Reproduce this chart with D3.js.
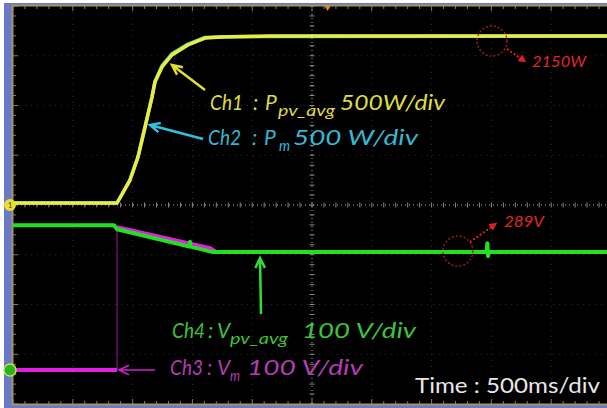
<!DOCTYPE html>
<html>
<head>
<meta charset="utf-8">
<script src="https://cdn.jsdelivr.net/npm/d3@7"></script>
<style>
  body { margin: 0; background: #fff; }
  svg { display: block; }
  text { font-family: Lato, "Open Sans", sans-serif; }
</style>
</head>
<body>
<div id="scope"></div>
<script>
/////////////////////////////////////////////////////////////
///////////////////// Data ////////////
/////////////////////////////////////////////////////////////

//Ch1 - P_pv_avg (W), time in ms
var ch1Time  = [0, 870, 978, 1045, 1104, 1162, 1187, 1246, 1329, 1463, 1605, 1747, 2149, 5000],
	ch1Watts = [20, 20, 251, 482, 784, 1085, 1236, 1387, 1508, 1608, 1678, 1688, 1698, 1698];

//Ch2 - P_m (W), almost entirely hidden behind Ch1
var ch2Time  = [0, 870, 978, 1045, 1104, 1162, 1187, 1246, 1329, 1463, 1605, 1747, 5000],
	ch2Watts = [20, 20, 251, 482, 784, 1085, 1240, 1400, 1520, 1618, 1684, 1692, 1698];

//Ch3 - V_m (V)
var ch3Time  = [0, 870, 870, 1650, 1700, 5000],
	ch3Volts = [0, 0, 287, 245, 237, 237];

//Ch4 - V_pv_avg (V)
var ch4Time  = [0, 845, 870, 1475, 1480, 1486, 1672, 3960, 3966, 3972, 3978, 5000],
	ch4Volts = [291, 291, 283, 248, 258, 248, 237, 237, 255, 229, 237, 237];

//Channel settings
var channels = [
	{ name: "Ch1", sym: "P", sub: "pv_avg", scale: "500W/div",  perDiv: 500, ground: 0 },
	{ name: "Ch2", sym: "P", sub: "m",      scale: "500 W/div", perDiv: 500, ground: 0 },
	{ name: "Ch3", sym: "V", sub: "m",      scale: "100 V/div", perDiv: 100, ground: -3.317 },
	{ name: "Ch4", sym: "V", sub: "pv_avg", scale: "100 V/div", perDiv: 100, ground: -3.317 }
];
var timeLabel = "Time : 500ms/div",
	marks = [ { ch: 0, t: 4005, text: "2150W" }, { ch: 3, t: 3720, text: "289V" } ];

/////////////////////////////////////////////////////////////
///////////////////// Set up ////////////////////////////////
/////////////////////////////////////////////////////////////

var width = 607, height = 408,
	plotLeft = 13, plotTop = 6, divW = 59.8, divH = 49.75;

var svg = d3.select("#scope").append("svg")
	.attr("width", width)
	.attr("height", height);

var x = d3.scaleLinear().domain([0, 5000]).range([plotLeft, plotLeft + 10 * divW]),
	y = d3.scaleLinear().domain([-4, 4]).range([plotTop + 8 * divH, plotTop]);

//value in channel units -> divisions
function toDiv(ch, v) { return v / channels[ch].perDiv + channels[ch].ground; }

//Outer frame of the screenshot
svg.append("rect").attr("x", 4).attr("y", 3).attr("width", width).attr("height", height)
	.style("fill", "#6b78c8");
svg.append("rect").attr("x", plotLeft).attr("y", plotTop).attr("width", width - plotLeft).attr("height", 8 * divH)
	.style("fill", "#000");

/////////////////////////////////////////////////////////////
///////////////////// Graticule /////////////////////////////
/////////////////////////////////////////////////////////////

var grid = svg.append("g");
var xDivs = d3.range(1, 10).map(function(i) { return i * 500; }),
	yDivs = d3.range(-3, 4);

grid.selectAll(".vgrid").data(xDivs).enter().append("line")
	.attr("x1", function(d) { return x(d); }).attr("x2", function(d) { return x(d); })
	.attr("y1", y(4)).attr("y2", y(-4))
	.style("stroke", function(d) { return d === 2500 ? "#b0b0b0" : "#2c2c3a"; })
	.style("stroke-width", 1)
	.style("stroke-dasharray", function(d) { return d === 2500 ? "1,3" : "1,5"; });
grid.selectAll(".hgrid").data(yDivs).enter().append("line")
	.attr("y1", function(d) { return y(d); }).attr("y2", function(d) { return y(d); })
	.attr("x1", x(0)).attr("x2", width)
	.style("stroke", function(d) { return d === 0 ? "#b0b0b0" : "#2c2c3a"; })
	.style("stroke-width", 1)
	.style("stroke-dasharray", function(d) { return d === 0 ? "1,3" : "1,5"; });

//minor ticks on the centre lines
var xMinor = d3.range(0, 51).map(function(i) { return i * 100; }),
	yMinor = d3.range(-20, 21).map(function(i) { return i / 5; });
grid.selectAll(".cx").data(xMinor).enter().append("line")
	.attr("x1", function(d) { return x(d); }).attr("x2", function(d) { return x(d); })
	.attr("y1", y(0) - 2.5).attr("y2", y(0) + 2.5)
	.style("stroke", "#8a8a8a");
grid.selectAll(".cy").data(yMinor).enter().append("line")
	.attr("y1", function(d) { return y(d); }).attr("y2", function(d) { return y(d); })
	.attr("x1", x(2500) - 2.5).attr("x2", x(2500) + 2.5)
	.style("stroke", "#8a8a8a");

//ticks along the border
grid.selectAll(".tt").data(xMinor).enter().append("line")
	.attr("x1", function(d) { return x(d); }).attr("x2", function(d) { return x(d); })
	.attr("y1", y(4)).attr("y2", function(d, i) { return y(4) + (i % 5 === 0 ? 5 : 3); })
	.style("stroke", "#8a7c50");
grid.selectAll(".tb").data(xMinor).enter().append("line")
	.attr("x1", function(d) { return x(d); }).attr("x2", function(d) { return x(d); })
	.attr("y1", y(-4)).attr("y2", function(d, i) { return y(-4) - (i % 5 === 0 ? 5 : 3); })
	.style("stroke", "#8a7c50");
grid.selectAll(".tl").data(yMinor).enter().append("line")
	.attr("y1", function(d) { return y(d); }).attr("y2", function(d) { return y(d); })
	.attr("x1", x(0)).attr("x2", function(d, i) { return x(0) + (i % 5 === 0 ? 5 : 3); })
	.style("stroke", "#8a7c50");

//border
svg.append("path")
	.attr("d", "M" + width + "," + (plotTop - 0.5) + "H" + (plotLeft - 0.5) + "V" + (plotTop + 8 * divH + 0.5) + "H" + width)
	.style("fill", "none").style("stroke", "#a89460").style("stroke-width", 2);

//trigger position marker on the top edge
svg.append("path")
	.attr("d", "M" + (x(2630) - 3) + "," + plotTop + "L" + (x(2630) + 3) + "," + plotTop + "L" + x(2630) + "," + (plotTop + 5) + "z")
	.style("fill", "#d09040");

/////////////////////////////////////////////////////////////
///////////////////// Traces ////////////////////////////////
/////////////////////////////////////////////////////////////

var defs = svg.append("defs");
defs.append("filter").attr("id", "glow").append("feGaussianBlur").attr("stdDeviation", 0.6);

function drawTrace(ch, times, vals, color, w) {
	var pts = times.map(function(t, i) { return [x(t), y(toDiv(ch, vals[i]))]; });
	//split at vertical steps so that fast edges are drawn thin, like on the scope
	var pieces = [[pts[0]]], steps = [];
	for (var i = 1; i < pts.length; i++) {
		if (times[i] === times[i - 1]) { steps.push([pts[i - 1], pts[i]]); pieces.push([pts[i]]); }
		else pieces[pieces.length - 1].push(pts[i]);
	}
	var g = svg.append("g").attr("filter", "url(#glow)");
	g.selectAll(".piece").data(pieces).enter().append("path")
		.attr("d", d3.line())
		.style("fill", "none").style("stroke", color).style("stroke-width", w)
		.style("stroke-linejoin", "round");
	g.selectAll(".step").data(steps).enter().append("path")
		.attr("d", d3.line())
		.style("fill", "none").style("stroke", color).style("stroke-width", 1).style("opacity", 0.7);
}

drawTrace(2, ch3Time, ch3Volts, "#e020e0", 4);
drawTrace(3, ch4Time, ch4Volts, "#22e022", 4);
drawTrace(1, ch2Time, ch2Watts, "#40c8e8", 3.5);
drawTrace(0, ch1Time, ch1Watts, "#ecec3c", 3.5);

//ground markers
svg.append("circle").attr("cx", 10).attr("cy", y(channels[0].ground)).attr("r", 6)
	.style("fill", "#e8e030");
svg.append("text").attr("x", 10).attr("y", y(channels[0].ground) + 3)
	.style("text-anchor", "middle").style("font-size", "8px").style("fill", "#444").text("1");
svg.append("circle").attr("cx", 10).attr("cy", y(channels[3].ground)).attr("r", 6)
	.style("fill", "#20b820").style("stroke", "#c8e040").style("stroke-width", 1.5);

/////////////////////////////////////////////////////////////
///////////////////// Annotations ///////////////////////////
/////////////////////////////////////////////////////////////

defs.append("marker").attr("id", "redHead").attr("viewBox", "0 0 10 10")
	.attr("refX", 5).attr("refY", 5).attr("markerWidth", 4).attr("markerHeight", 4)
	.attr("orient", "auto")
	.append("path").attr("d", "M0,0L10,5L0,10z").style("fill", "#e02020");

var markGeom = [ { dy: 5,  dx1: 15, dy1: 8,  dx2: 31, dy2: 19, tx: 40, ty: 26, w: 54 },
				 { dy: -1, dx1: 12, dy1: -9, dx2: 36, dy2: -26, tx: 46, ty: -24, w: 40 } ];
marks.forEach(function(m, i) {
	var g = markGeom[i],
		cx = x(m.t),
		cy = y(toDiv(m.ch, m.ch === 0 ? ch1Watts[ch1Watts.length - 1] : ch4Volts[ch4Volts.length - 1])) + g.dy;
	svg.append("circle").attr("cx", cx).attr("cy", cy).attr("r", 15)
		.style("fill", "none").style("stroke", "#b02020").style("stroke-width", 1.3)
		.style("stroke-dasharray", "2,2");
	svg.append("line").attr("x1", cx + g.dx1).attr("y1", cy + g.dy1)
		.attr("x2", cx + g.dx2).attr("y2", cy + g.dy2)
		.attr("marker-end", "url(#redHead)")
		.style("stroke", "#e02020").style("stroke-width", 2).style("stroke-dasharray", "2,2");
	svg.append("text").attr("x", cx + g.tx).attr("y", cy + g.ty)
		.attr("textLength", g.w).attr("lengthAdjust", "spacingAndGlyphs")
		.style("fill", "#e02828").style("font-size", "16px").style("font-style", "italic")
		.text(m.text);
});

//label arrows
var arrows = [
	{ color: "#e0e030", x1: 205, y1: 90,  x2: 172, y2: 65 },
	{ color: "#30c0e0", x1: 203, y1: 139, x2: 150, y2: 125 },
	{ color: "#30e030", x1: 261, y1: 314, x2: 260, y2: 258 },
	{ color: "#d020d0", x1: 155, y1: 370, x2: 119, y2: 370 }
];
arrows.forEach(function(a, i) {
	var ang = Math.atan2(a.y2 - a.y1, a.x2 - a.x1), L = 11, s = 0.45;
	svg.append("path")
		.attr("d", "M" + a.x1 + "," + a.y1 + "L" + a.x2 + "," + a.y2 +
			"M" + (a.x2 - L * Math.cos(ang - s)) + "," + (a.y2 - L * Math.sin(ang - s)) +
			"L" + a.x2 + "," + a.y2 +
			"L" + (a.x2 - L * Math.cos(ang + s)) + "," + (a.y2 - L * Math.sin(ang + s)))
		.style("fill", "none").style("stroke", a.color).style("stroke-width", i === 3 ? 1.5 : 2.5);
});

/////////////////////////////////////////////////////////////
///////////////////// Channel labels ////////////////////////
/////////////////////////////////////////////////////////////

//x positions / widths of the label pieces: name, colon, symbol, subscript, scale
var labelPos = [
	{ y: 110, color: "#dede44", nx: 210, cx: 253, sx: 265, bx: 278, bw: 57, vx: 340, vw: 105 },
	{ y: 145, color: "#36b8d2", nx: 208, cx: 252, sx: 264, bx: 279, bw: 11, vx: 293, vw: 125 },
	{ y: 375, color: "#b43cb4", nx: 170, cx: 207, sx: 217, bx: 230, bw: 10, vx: 247, vw: 116 },
	{ y: 338, color: "#3cc43c", nx: 172, cx: 208, sx: 217, bx: 230, bw: 58, vx: 302, vw: 114 }
];
channels.forEach(function(c, i) {
	var p = labelPos[i];
	var g = svg.append("g").style("font-style", "italic").style("fill", p.color).style("font-size", "21px");
	g.append("text").attr("x", p.nx).attr("y", p.y)
		.attr("textLength", 33).attr("lengthAdjust", "spacingAndGlyphs").text(c.name);
	g.append("text").attr("x", p.cx).attr("y", p.y).text(":");
	g.append("text").attr("x", p.sx).attr("y", p.y).text(c.sym);
	g.append("text").attr("x", p.bx).attr("y", p.y + 6).style("font-size", "15px")
		.attr("textLength", p.bw).attr("lengthAdjust", "spacingAndGlyphs").text(c.sub);
	g.append("text").attr("x", p.vx).attr("y", p.y)
		.attr("textLength", p.vw).attr("lengthAdjust", "spacingAndGlyphs").text(c.scale);
});

svg.append("text").attr("x", 415).attr("y", 393)
	.attr("textLength", 185).attr("lengthAdjust", "spacingAndGlyphs")
	.style("fill", "#e8e8e8").style("font-size", "21px")
	.text(timeLabel);
</script>
</body>
</html>
